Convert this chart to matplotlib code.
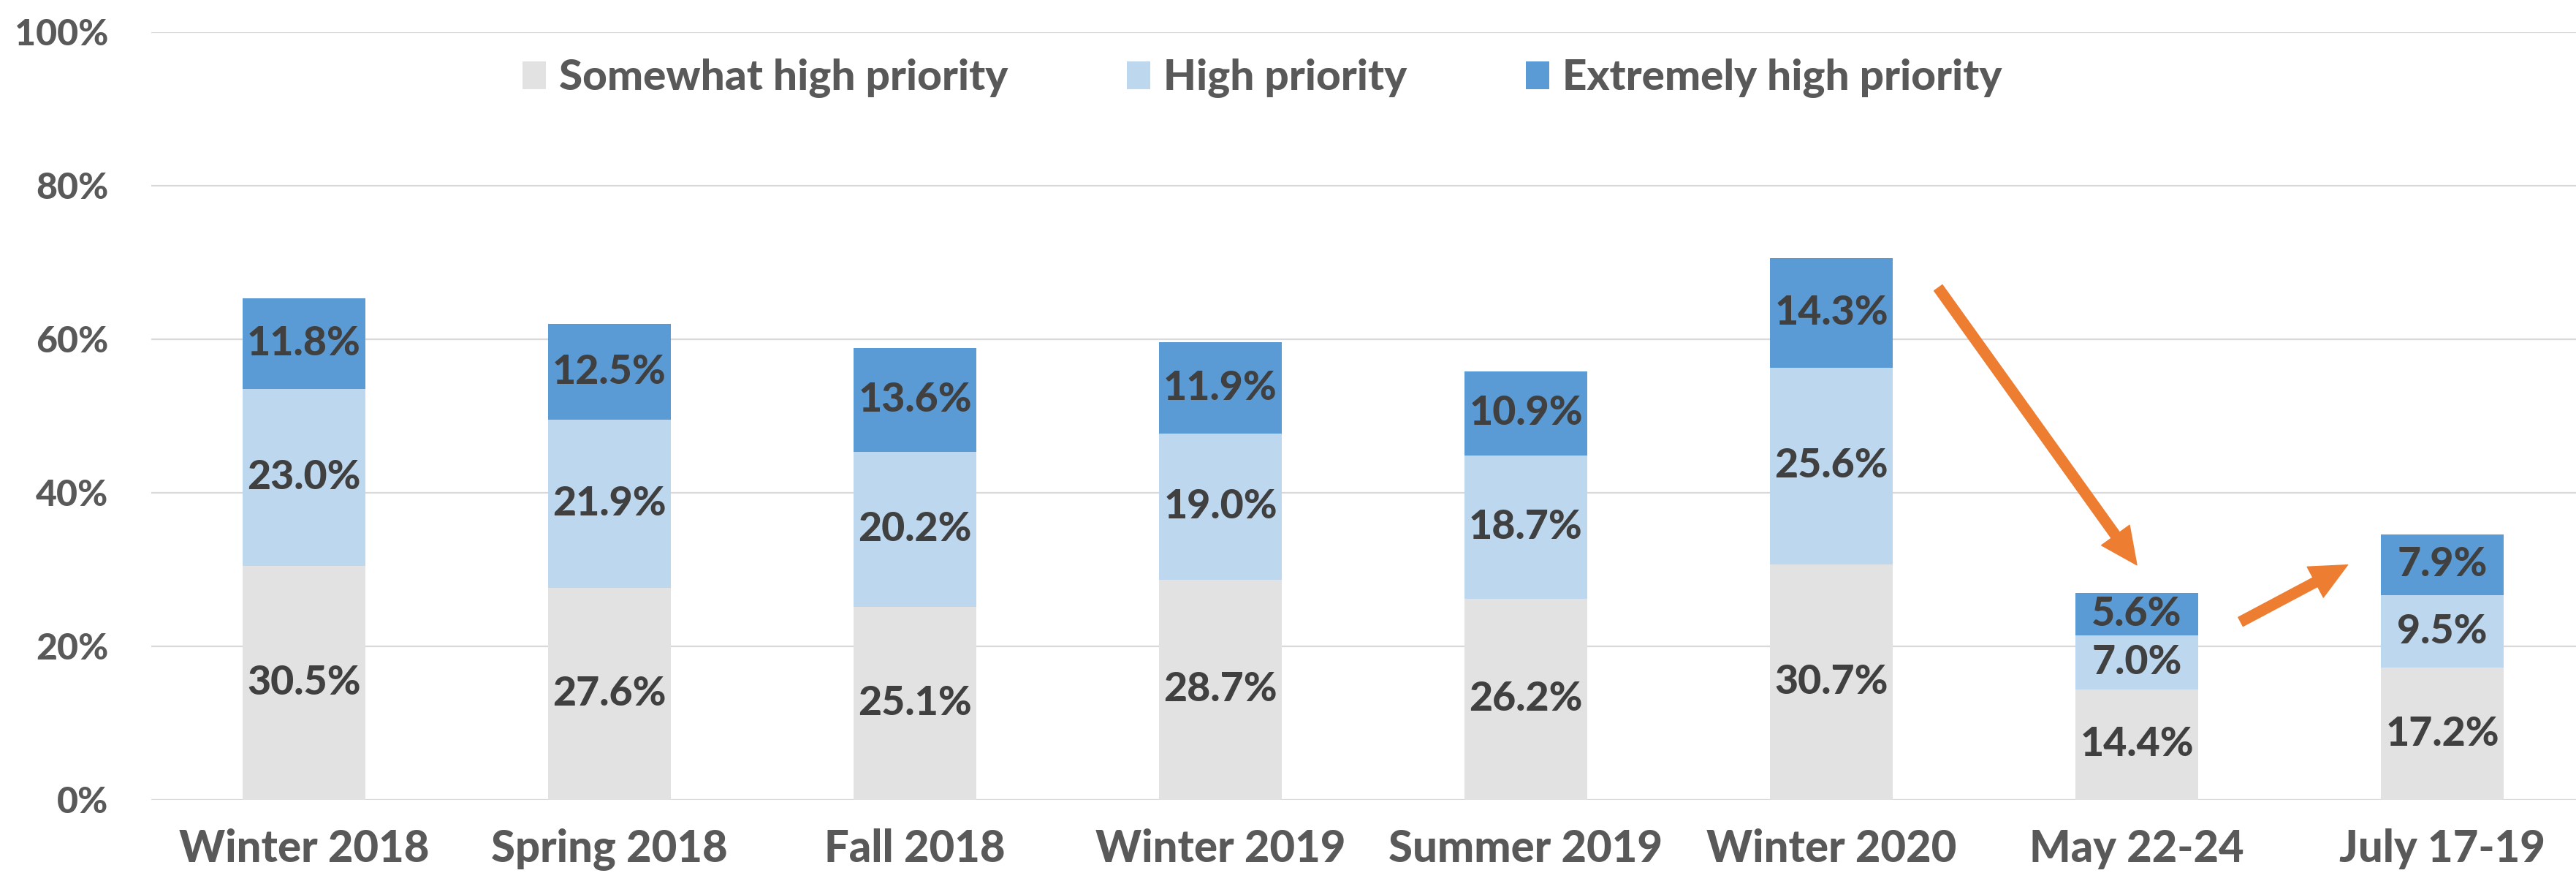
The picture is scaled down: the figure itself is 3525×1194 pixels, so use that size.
import matplotlib
matplotlib.use("Agg")
import matplotlib.pyplot as plt
import numpy as np

# survey waves
categories = ["Winter 2018", "Spring 2018", "Fall 2018", "Winter 2019",
              "Summer 2019", "Winter 2020", "May 22-24", "July 17-19"]

# shares in percent
somewhat_high = [30.5, 27.6, 25.1, 28.7, 26.2, 30.7, 14.4, 17.2]
high = [23.0, 21.9, 20.2, 19.0, 18.7, 25.6, 7.0, 9.5]
extremely_high = [11.8, 12.5, 13.6, 11.9, 10.9, 14.3, 5.6, 7.9]

series_names = ["Somewhat high priority", "High priority", "Extremely high priority"]
colors = ["#E3E2E3", "#BDD7EE", "#5B9BD5"]

# orange trend arrows (x in category index, y in percent)
arrow_starts = [(5.35, 66.7), (6.34, 23.2)]
arrow_ends = [(6.0, 30.6), (6.69, 30.6)]

yticks = [0, 20, 40, 60, 80, 100]

W = "black"
plt.rcParams["font.family"] = ["Lato", "DejaVu Sans"]

fig = plt.figure(figsize=(35.25, 11.94), dpi=100)
ax = fig.add_axes([207 / 3525, 1 - 1094 / 1194, 3318 / 3525, 1050 / 1194])

x = np.arange(len(categories))
bottom = np.zeros(len(categories))
for name, vals, col in zip(series_names, [somewhat_high, high, extremely_high], colors):
    vals = np.array(vals)
    ax.bar(x, vals, width=0.4, bottom=bottom, color=col, label=name, zorder=2)
    for xi, b, v in zip(x, bottom, vals):
        ax.text(xi, b + v / 2, f"{v:.1f}%", ha="center", va="center",
                fontsize=40, fontweight=W, color="#404040", zorder=3)
    bottom += vals

for (x0, y0), (x1, y1) in zip(arrow_starts, arrow_ends):
    ax.annotate("", xy=(x1, y1), xytext=(x0, y0),
                arrowprops=dict(arrowstyle="simple,head_length=0.9,head_width=0.85,tail_width=0.25",
                                color="#ED7D31", mutation_scale=40, shrinkA=0, shrinkB=0),
                zorder=4)

ax.set_xlim(-0.5, -0.5 + 3318 / 418)
ax.set_ylim(0, 100)
ax.set_yticks(yticks)
ax.set_yticklabels([f"{t}%" for t in yticks])
ax.set_xticks(x)
ax.set_xticklabels(categories)
ax.yaxis.grid(True, color="#D9D9D9", linewidth=1.6, zorder=0)
ax.set_axisbelow(True)
for s in ax.spines.values():
    s.set_visible(False)
ax.tick_params(axis="y", length=0, pad=42, labelsize=36, labelcolor="#595959")
ax.tick_params(axis="x", length=0, pad=28, labelsize=43, labelcolor="#595959")
for lab in ax.get_xticklabels() + ax.get_yticklabels():
    lab.set_fontweight(W)

ax.legend(loc="center", bbox_to_anchor=(0.49, 0.91), bbox_transform=fig.transFigure,
          ncol=3, frameon=False, handlelength=0.55, handleheight=0.65,
          handletextpad=0.3, columnspacing=2.8, labelcolor="#595959",
          prop={"weight": W, "size": 42})

fig.savefig("out.png", dpi=100, facecolor="white")
